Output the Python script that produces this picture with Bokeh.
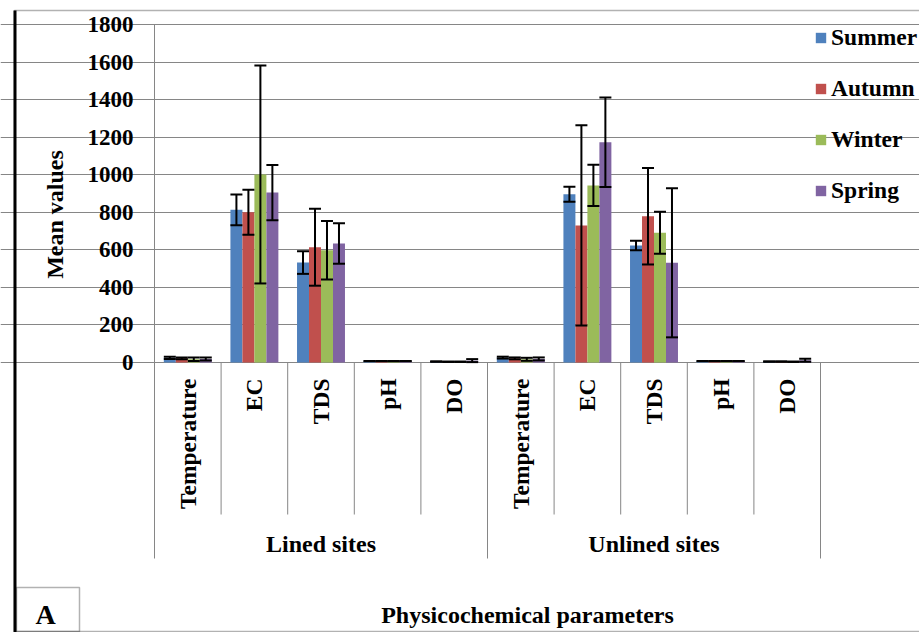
import math
from bokeh.plotting import figure
from bokeh.models import (Range1d, LinearAxis, FixedTicker, Grid, ColumnDataSource,
                          Whisker, TeeHead, Legend, LegendItem, Label, BoxAnnotation)
from bokeh.core.properties import value
from bokeh.embed import file_html
from bokeh.resources import INLINE

# ---------------- data ----------------
groups = ["Lined sites", "Unlined sites"]
parameters = ["Temperature", "EC", "TDS", "pH", "DO"]
seasons = ["Summer", "Autumn", "Winter", "Spring"]

# values per (group, parameter): Lined T, EC, TDS, pH, DO, Unlined T, EC, TDS, pH, DO
summer = [25, 813, 532, 7.6, 5, 26, 896, 623, 7.7, 5]
autumn = [22, 800, 614, 7.5, 4, 22, 730, 779, 7.6, 5]
winter = [17, 1001, 598, 7.4, 4, 17, 943, 691, 7.5, 4]
spring = [19, 905, 634, 7.6, 10, 19, 1173, 531, 7.6, 12]

summer_err = [6, 82, 60, 0.4, 1, 5, 40, 25, 0.4, 1]
autumn_err = [5, 120, 205, 0.4, 1, 5, 533, 257, 0.4, 1]
winter_err = [9, 580, 156, 0.4, 1, 8, 110, 112, 0.4, 1]
spring_err = [8, 147, 108, 0.4, 8, 8, 238, 397, 0.4, 8]

y_ticks = [0, 200, 400, 600, 800, 1000, 1200, 1400, 1600, 1800]
colors = ["#4F81BD", "#C0504D", "#9BBB59", "#8064A2"]

# ---------------- layout constants ----------------
W, H = 919, 632
PL, PR, PT, P0 = 154, 820, 24, 362          # plot area: left, right, top(1800), zero line (px)
NCAT = len(groups) * len(parameters)
XPX = (PR - PL) / NCAT                      # px per category
PX = (P0 - PT) / 1800.0                     # px per unit on y

def ypix(dy):  # value lying dy px below the zero line
    return -dy / PX

FONT = "Liberation Serif"

p = figure(width=W, height=H, output_backend="svg", toolbar_location=None,
           x_axis_type=None, y_axis_type=None,
           x_range=Range1d(-PL / XPX, NCAT + (W - PR) / XPX),
           y_range=Range1d(-(H - P0) / PX, 1800 + PT / PX),
           min_border=0, min_border_left=0, min_border_right=0,
           min_border_top=0, min_border_bottom=0)
p.outline_line_color = None
p.background_fill_color = "white"
p.border_fill_color = "white"

yaxis = LinearAxis(ticker=FixedTicker(ticks=y_ticks), fixed_location=0,
                   bounds=(ypix(196), 1800))
yaxis.axis_line_color = "#868686"
yaxis.major_tick_line_color = "#868686"
yaxis.major_tick_out = 6
yaxis.major_tick_in = 0
yaxis.minor_tick_line_color = None
yaxis.major_label_standoff = 15
yaxis.major_label_text_font = FONT
yaxis.major_label_text_font_style = "bold"
yaxis.major_label_text_font_size = "23px"
yaxis.major_label_text_color = "black"
p.add_layout(yaxis, "left")
p.add_layout(Grid(dimension=1, ticker=FixedTicker(ticks=y_ticks), bounds=(0, NCAT),
                  grid_line_color="#868686", grid_line_width=1))

# ---------------- bars + error bars ----------------
series = [summer, autumn, winter, spring]
errs = [summer_err, autumn_err, winter_err, spring_err]
offsets = [-0.27, -0.09, 0.09, 0.27]
items = []
for s, vals, er, col, off in zip(seasons, series, errs, colors, offsets):
    xs = [i + 0.5 + off for i in range(NCAT)]
    src = ColumnDataSource(dict(x=xs, top=vals,
                                upper=[v + e for v, e in zip(vals, er)],
                                lower=[v - e for v, e in zip(vals, er)]))
    r = p.vbar(x="x", top="top", bottom=0, width=0.18, source=src,
               fill_color=col, line_color=None)
    items.append(LegendItem(label=s, renderers=[r]))
    wk = Whisker(source=src, base="x", upper="upper", lower="lower", level="overlay",
                 line_color="black", line_width=2,
                 upper_head=TeeHead(size=12, line_color="black", line_width=2),
                 lower_head=TeeHead(size=12, line_color="black", line_width=2))
    p.add_layout(wk)

# ---------------- category axis (Excel style) ----------------
cat_x = [i + 0.5 for i in range(NCAT)]
cat_lbl = parameters * len(groups)
p.text(x=cat_x, y=[ypix(16)] * NCAT, text=cat_lbl, angle=math.pi / 2,
       text_align="right", text_baseline="middle",
       text_font=value(FONT), text_font_style="bold", text_font_size="23.5px",
       text_color="black")

sep_x = [i for i in range(1, NCAT) if i % len(parameters) != 0]
p.segment(x0=sep_x, y0=[0] * len(sep_x), x1=sep_x, y1=[ypix(152)] * len(sep_x),
          line_color="#868686", line_width=1)
gsep_x = [i * len(parameters) for i in range(1, len(groups) + 1)]
p.segment(x0=gsep_x, y0=[0] * len(gsep_x), x1=gsep_x, y1=[ypix(196)] * len(gsep_x),
          line_color="#868686", line_width=1)

grp_x = [(g + 0.5) * len(parameters) for g in range(len(groups))]
p.text(x=grp_x, y=[ypix(181)] * len(groups), text=groups,
       text_align="center", text_baseline="middle",
       text_font=value(FONT), text_font_style="bold", text_font_size="24px",
       text_color="black")

# ---------------- legend ----------------
legend = Legend(items=items, location=(814, 427), orientation="vertical",
                glyph_width=13, glyph_height=13, label_height=30, spacing=21,
                label_standoff=4, padding=0, margin=0,
                border_line_color=None, background_fill_alpha=0,
                label_text_font=FONT, label_text_font_style="bold",
                label_text_font_size="23.5px", label_text_color="black")
p.add_layout(legend)

# ---------------- titles, panel letter, border ----------------
p.add_layout(Label(x=54, y=214, x_units="canvas", y_units="canvas",
                   text="Mean values", angle=math.pi / 2,
                   text_align="center", text_baseline="middle",
                   text_font=FONT, text_font_style="bold",
                   text_font_size="24px", text_color="black"))
p.add_layout(Label(x=530, y=614, x_units="canvas", y_units="canvas",
                   text="Physicochemical  parameters",
                   text_align="center", text_baseline="middle",
                   text_font=FONT, text_font_style="bold",
                   text_font_size="24px", text_color="black"))
p.add_layout(BoxAnnotation(left=16, right=79, top=587, bottom=631,
                           left_units="canvas", right_units="canvas",
                           top_units="canvas", bottom_units="canvas",
                           fill_color="white", fill_alpha=1,
                           line_color="black", line_width=1.5))
p.add_layout(Label(x=45, y=614, x_units="canvas", y_units="canvas",
                   text="A", text_align="center", text_baseline="middle",
                   text_font=FONT, text_font_style="bold",
                   text_font_size="28px", text_color="black"))
p.add_layout(BoxAnnotation(left=14, right=W + 5, top=10, bottom=631,
                           left_units="canvas", right_units="canvas",
                           top_units="canvas", bottom_units="canvas",
                           fill_alpha=0, line_color="black", line_width=1.5))
p.add_layout(BoxAnnotation(left=13, right=16, top=10, bottom=632,
                           left_units="canvas", right_units="canvas",
                           top_units="canvas", bottom_units="canvas",
                           fill_color="black", fill_alpha=1, line_color=None))

open("out.html", "w").write(file_html(p, INLINE))
